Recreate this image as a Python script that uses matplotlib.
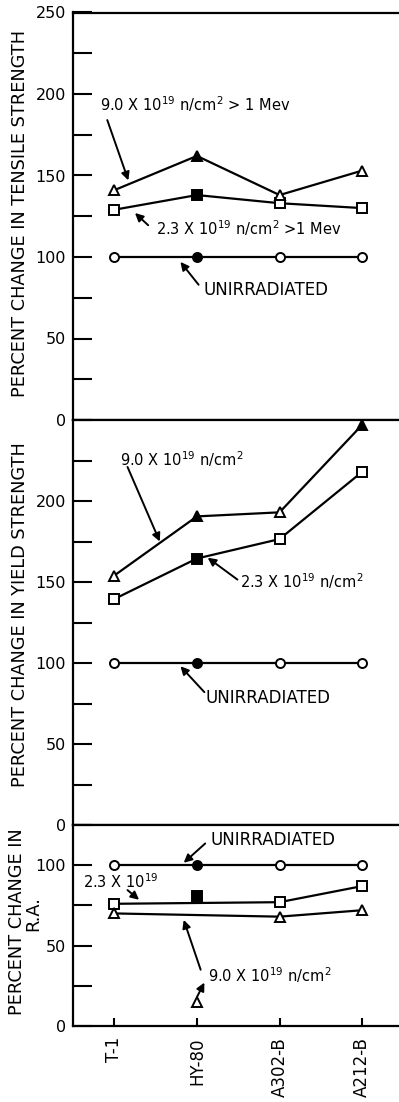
import matplotlib.pyplot as plt
import numpy as np

steels = ['T-1', 'HY-80', 'A302-B', 'A212-B']
x = np.arange(len(steels))

# tensile strength, % of unirradiated
ts_unirr = [100, 100, 100, 100]
ts_23 = [129, 138, 133, 130]
ts_90 = [141, 162, 138, 153]

# yield strength
ys_unirr = [100, 100, 100, 100]
ys_23 = [139.5, 164.5, 176.5, 218]
ys_90 = [154, 190.5, 193, 247]

# reduction of area (HY-80 points sit off the lines)
ra_unirr = [100, 100, 100, 100]
ra_23 = [76, 81, 77, 87]
ra_90 = [70, 15, 68, 72]

plt.rcParams['font.family'] = 'DejaVu Sans'
plt.rcParams['mathtext.fontset'] = 'dejavusans'

fig = plt.figure(figsize=(3.99, 11.02), dpi=100)
W, H = 399.0, 1102.0
L = 73 / W
R = 401 / W

ax1 = fig.add_axes([L, 1 - 420 / H, R - L, (420 - 12.5) / H])
ax2 = fig.add_axes([L, 1 - 825 / H, R - L, (825 - 420) / H])
ax3 = fig.add_axes([L, 1 - 1026 / H, R - L, (1026 - 825) / H])

lw = 1.6
ms = 6.5
fs_note = 10.5


def series(ax, xs, ys, marker, filled_idx, line_idx=None, ms=ms):
    xs = np.asarray(xs)
    ys = np.asarray(ys)
    if line_idx is None:
        line_idx = list(range(len(xs)))
    ax.plot(xs[line_idx], ys[line_idx], '-', color='black', lw=lw, zorder=2)
    for i in range(len(xs)):
        fc = 'black' if i in filled_idx else 'white'
        ax.plot(xs[i], ys[i], marker=marker, ms=ms, mfc=fc, mec='black',
                mew=1.4, ls='none', zorder=3)


def arrow(ax, head, tail):
    ax.annotate('', xy=head, xytext=tail,
                arrowprops=dict(arrowstyle='-|>', color='black', lw=1.4,
                                mutation_scale=12, shrinkA=0, shrinkB=0))


def setup(ax, top, labels):
    ax.set_xlim(-0.5, 3.47)
    ax.set_ylim(0, top)
    ax.spines['right'].set_visible(False)
    for s in ['left', 'top', 'bottom']:
        ax.spines[s].set_linewidth(1.6)
    ticks = np.arange(0, top + 1, 25)
    ax.set_yticks(ticks)
    ax.set_yticklabels([str(int(v)) if (v in labels) else '' for v in ticks])
    ax.tick_params(axis='y', direction='in', length=14, width=1.5, pad=5, labelsize=11.5)
    ax.set_xticks([])


# tensile strength
setup(ax1, 250, [0, 50, 100, 150, 200, 250])
series(ax1, x, ts_unirr, 'o', [1])
series(ax1, x, ts_23, 's', [1])
series(ax1, x, ts_90, '^', [1])
ax1.text(-0.17, 194, '9.0 X 10$^{19}$ n/cm$^{2}$ > 1 Mev', fontsize=fs_note, va='center')
arrow(ax1, (0.17, 147), (-0.085, 184))
ax1.text(0.50, 117.5, '2.3 X 10$^{19}$ n/cm$^{2}$ >1 Mev', fontsize=fs_note, va='center')
arrow(ax1, (0.25, 127), (0.41, 119.5))
ax1.text(1.08, 79.5, 'UNIRRADIATED', fontsize=12, va='center')
arrow(ax1, (0.80, 97), (1.02, 83))

# yield strength
setup(ax2, 250, [0, 50, 100, 150, 200])
series(ax2, x, ys_unirr, 'o', [1])
series(ax2, x, ys_23, 's', [1])
series(ax2, x, ys_90, '^', [1, 3])
ax2.text(0.07, 226, '9.0 X 10$^{19}$ n/cm$^{2}$', fontsize=fs_note, va='center')
arrow(ax2, (0.55, 175), (0.16, 221))
ax2.text(1.52, 150.5, '2.3 X 10$^{19}$ n/cm$^{2}$', fontsize=fs_note, va='center')
arrow(ax2, (1.13, 165), (1.49, 151.5))
ax2.text(1.105, 78.5, 'UNIRRADIATED', fontsize=12, va='center')
arrow(ax2, (0.80, 98), (1.09, 82))

# reduction of area
setup(ax3, 125, [0, 50, 100])
series(ax3, x, ra_unirr, 'o', [1])
series(ax3, x, ra_23, 's', [1], line_idx=[0, 2, 3])
series(ax3, x, ra_90, '^', [], line_idx=[0, 2, 3])
ax3.text(1.166, 115.5, 'UNIRRADIATED', fontsize=12, va='center')
arrow(ax3, (0.84, 101.5), (1.1, 113.5))
ax3.text(-0.38, 89.5, '2.3 X 10$^{19}$', fontsize=fs_note, va='center')
arrow(ax3, (0.30, 78.5), (0.16, 84.5))
ax3.text(1.14, 31.5, '9.0 X 10$^{19}$ n/cm$^{2}$', fontsize=fs_note, va='center')
arrow(ax3, (0.84, 66), (1.045, 35))
arrow(ax3, (1.09, 27), (1.0, 18))

ax3.set_xticks(x)
ax3.set_xticklabels(steels, rotation=90, fontsize=12, va='top')
ax3.tick_params(axis='x', direction='in', length=6, width=1.5, pad=8)

fig.text(20 / W, 1 - 213 / H, 'PERCENT CHANGE IN TENSILE STRENGTH', rotation=90,
         ha='center', va='center', fontsize=12.8)
fig.text(20 / W, 1 - 615 / H, 'PERCENT CHANGE IN YIELD STRENGTH', rotation=90,
         ha='center', va='center', fontsize=12.8)
fig.text(17 / W, 1 - 922 / H, 'PERCENT CHANGE IN', rotation=90,
         ha='center', va='center', fontsize=12.8)
fig.text(33 / W, 1 - 914 / H, 'R.A.', rotation=90,
         ha='center', va='center', fontsize=12.8)

fig.savefig('out.png', dpi=100)
